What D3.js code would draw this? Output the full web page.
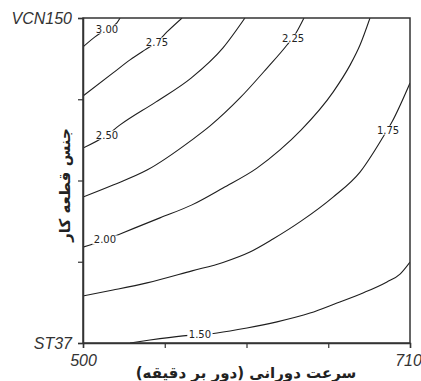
<!DOCTYPE html>
<html><head><meta charset="utf-8">
<script src="https://cdn.jsdelivr.net/npm/d3@7"></script>
<style>body{margin:0;background:#fff}svg{display:block}</style>
</head><body>
<svg id="c" width="421" height="381"></svg>
<script>
// x: rotational speed (rpm), y: workpiece material coded 0 (ST37) .. 1 (VCN150)
const xDomain = [500, 710];
const xTicks = [500, 552.5, 605, 657.5, 710];
const xTickLabels = ["500", "", "", "", "710"];
const yTicks = [0, 0.25, 0.5, 0.75, 1];
const yTickLabels = ["ST37", "", "", "", "VCN150"];
const xTitle = "سرعت دورانی (دور بر دقیقه)";
const yTitle = "جنس قطعه کار";

const levels = [3.00, 2.75, 2.50, 2.25, 2.00, 1.75, 1.50];
const line300 = [[500,0.911],[507.7,0.942],[515.4,0.966],[521.8,0.985],[523.8,1.0]];
const line275 = [[500,0.760],[519.3,0.831],[530.2,0.871],[539.8,0.902],[547.5,0.926],[553.9,0.957],[563.6,1.0]];
const line250 = [[500,0.600],[515.4,0.640],[523.8,0.671],[546.9,0.742],[569.4,0.815],[589.9,0.908],[604.0,1.0]];
const line225 = [[500,0.449],[519.3,0.486],[541.1,0.532],[570.0,0.625],[581.6,0.668],[600.8,0.754],[618.2,0.846],[631.0,0.917],[636.8,0.954],[641.9,1.0]];
const line200 = [[500,0.295],[514.1,0.317],[525.0,0.338],[549.4,0.385],[570.0,0.425],[589.9,0.477],[611.7,0.538],[626.5,0.594],[640.0,0.655],[660.6,0.772],[671.5,0.855],[677.9,0.917],[684.3,1.0]];
const line175 = [[500,0.145],[519.3,0.163],[541.1,0.185],[570.0,0.222],[589.9,0.248],[607.2,0.280],[622.0,0.320],[640.0,0.375],[660.6,0.449],[677.9,0.526],[692.7,0.634],[698.4,0.680],[710,0.800]];
const line150 = [[530.2,0.0],[543.0,0.009],[564.2,0.022],[586.1,0.031],[605.3,0.046],[624.6,0.065],[645.8,0.092],[663.1,0.123],[679.8,0.154],[695.2,0.188],[703.6,0.212],[710,0.249]];
const contourLines = [line300, line275, line250, line225, line200, line175, line150];
const labelAt = [[515.4,0.966],[547.5,0.926],[515.4,0.640],[634.9,0.938],[514.1,0.317],[695.9,0.655],[575.1,0.025]];

const m = {l:83, t:18, w:327, h:325};
const svg = d3.select("#c");
const g = svg.append("g").attr("transform", `translate(${m.l},${m.t})`);
const x = d3.scaleLinear().domain(xDomain).range([0, m.w]);
const y = d3.scaleLinear().domain([0,1]).range([m.h, 0]);

svg.append("clipPath").attr("id","pc").append("rect").attr("width",m.w).attr("height",m.h);
const line = d3.line().x(d=>x(d[0])).y(d=>y(d[1])).curve(d3.curveMonotoneX);
const cg = g.append("g").attr("clip-path","url(#pc)");
contourLines.forEach(pts => {
  cg.append("path").attr("d", line(pts)).attr("fill","none").attr("stroke","#1e1e1e").attr("stroke-width",1.1);
});
// labels
const fmt = d3.format(".2f");
levels.forEach((lv,i) => {
  const p = labelAt[i];
  const lg = g.append("g").attr("transform",`translate(${x(p[0])},${y(p[1])})`);
  const t = lg.append("text").text(fmt(lv)).attr("text-anchor","middle").attr("dy","0.35em")
    .attr("font-family","DejaVu Sans, sans-serif").attr("font-size",10).attr("fill","#222");
  const bb = t.node().getBBox();
  lg.insert("rect","text").attr("x",bb.x-1.5).attr("y",bb.y+1).attr("width",bb.width+3).attr("height",bb.height-2).attr("fill","#fff");
});

// frame
g.append("rect").attr("width",m.w).attr("height",m.h).attr("fill","none").attr("stroke","#333").attr("stroke-width",1.5);

// axes
const xa = g.append("g").attr("transform",`translate(0,${m.h})`)
  .call(d3.axisBottom(x).tickValues(xTicks).tickFormat((d,i)=>xTickLabels[i]).tickSizeOuter(0).tickSize(5).tickPadding(4));
const ya = g.append("g")
  .call(d3.axisLeft(y).tickValues(yTicks).tickFormat((d,i)=>yTickLabels[i]).tickSizeOuter(0).tickSize(5).tickPadding(6));
[xa, ya].forEach(a => {
  a.select(".domain").attr("stroke","#333").attr("stroke-width",1.5);
  a.selectAll(".tick line").attr("stroke","#333").attr("stroke-width",1.2);
  a.selectAll(".tick text").attr("font-family","Liberation Sans, Arial, sans-serif").attr("font-style","italic")
    .attr("font-size",16).attr("fill","#333");
});
xa.selectAll(".tick text").attr("dy","0.9em");
xa.selectAll(".tick").filter(d=>d===710).select("text").attr("dx",-2);

// titles
svg.append("text").attr("x", 246).attr("y", 378).attr("text-anchor","middle")
  .attr("font-family","DejaVu Sans, sans-serif").attr("font-weight","bold").attr("font-size",15).attr("fill","#222")
  .attr("direction","rtl").text(xTitle);
svg.append("text").attr("transform","translate(70,185) rotate(-90)").attr("text-anchor","middle")
  .attr("font-family","DejaVu Sans, sans-serif").attr("font-weight","bold").attr("font-size",15).attr("fill","#222")
  .attr("direction","rtl").text(yTitle);
</script>
</body></html>
